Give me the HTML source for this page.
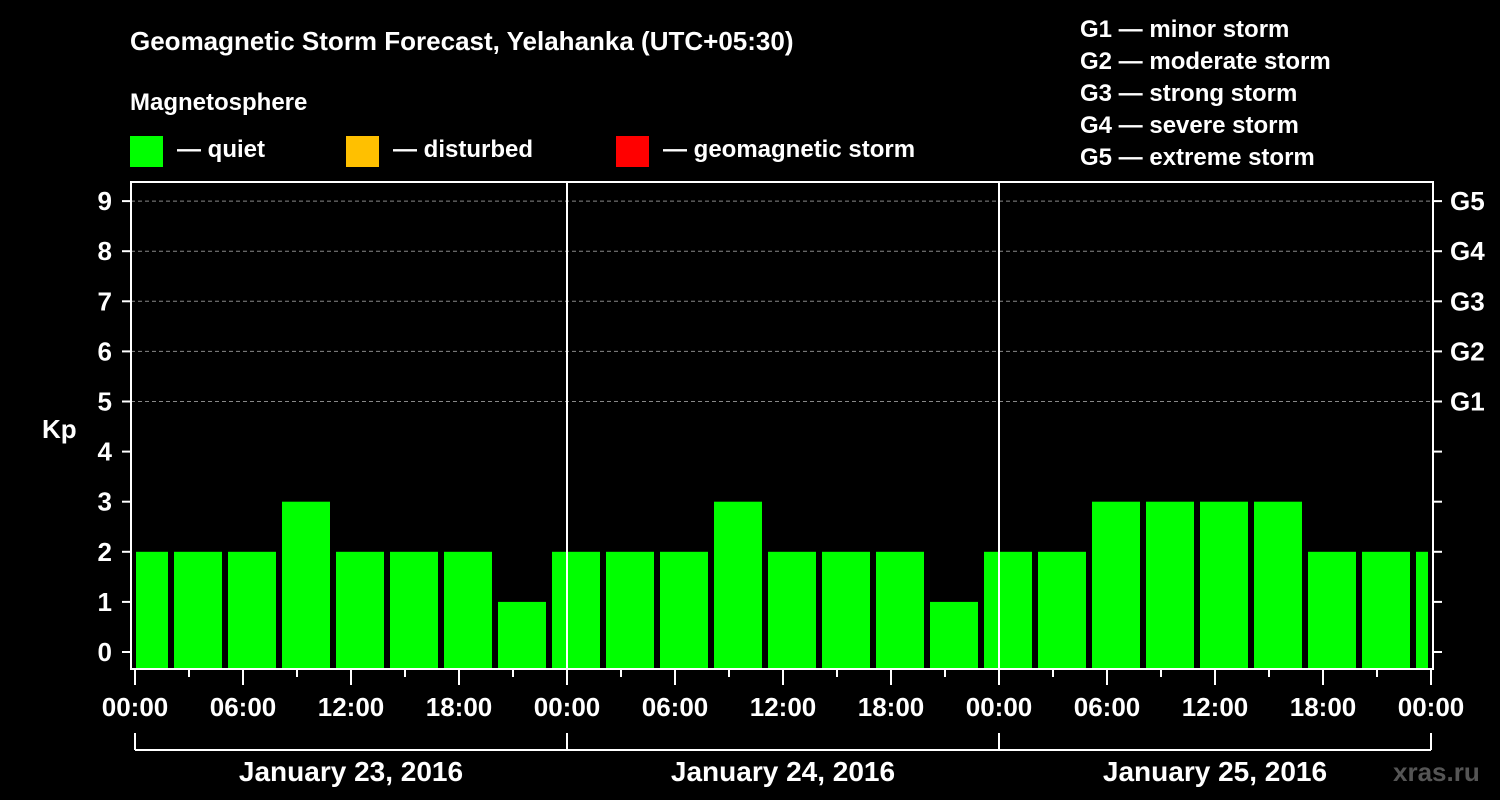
<!DOCTYPE html>
<html><head><meta charset="utf-8"><style>
html,body{margin:0;padding:0;background:#000;}
svg{display:block;font-family:"Liberation Sans",Arial,sans-serif;font-weight:bold;}
</style></head><body>
<svg id="chart" width="1500" height="800" viewBox="0 0 1500 800">
<rect width="1500" height="800" fill="#000"/>
<text x="130" y="50" fill="#fff" font-size="26">Geomagnetic Storm Forecast, Yelahanka (UTC+05:30)</text>
<text x="130" y="110" fill="#fff" font-size="24">Magnetosphere</text>
<g>
<rect x="130" y="136" width="33" height="31" fill="#00ff00"/>
<text x="177" y="157" fill="#fff" font-size="24">— quiet</text>
<rect x="346" y="136" width="33" height="31" fill="#ffc000"/>
<text x="393" y="157" fill="#fff" font-size="24">— disturbed</text>
<rect x="616" y="136" width="33" height="31" fill="#ff0000"/>
<text x="663" y="157" fill="#fff" font-size="24">— geomagnetic storm</text>
</g>
<g fill="#fff" font-size="24">
<text x="1080" y="37">G1 — minor storm</text>
<text x="1080" y="69">G2 — moderate storm</text>
<text x="1080" y="101">G3 — strong storm</text>
<text x="1080" y="133">G4 — severe storm</text>
<text x="1080" y="165">G5 — extreme storm</text>
</g>
<text x="42" y="438" fill="#fff" font-size="26">Kp</text>
<g id="grid"></g>
<g id="bars"></g>
<g id="axes"></g>
<text x="1393" y="781" fill="#555" font-size="26">xras.ru</text>
</svg>
<script>
const kpValues=[2,2,2,3,2,2,2,1,2,2,2,3,2,2,2,1,2,2,3,3,3,3,2,2,2];
const yTicks=[0,1,2,3,4,5,6,7,8,9];
const gLabels=["G1","G2","G3","G4","G5"];
const xTickLabels=["00:00","06:00","12:00","18:00","00:00","06:00","12:00","18:00","00:00","06:00","12:00","18:00","00:00"];
const dayLabels=["January 23, 2016","January 24, 2016","January 25, 2016"];
const NS="http://www.w3.org/2000/svg";
const L=131,R=1433,T=182,B=669;
const x=h=>135+h*18;
const y=k=>652-k*50.1;
function mk(tag,attrs,parent,text){const e=document.createElementNS(NS,tag);for(const a in attrs)e.setAttribute(a,attrs[a]);if(text!==undefined)e.textContent=text;parent.appendChild(e);return e;}
const grid=document.getElementById('grid'),bars=document.getElementById('bars'),axes=document.getElementById('axes');
for(let k=5;k<=9;k++){
 const g=mk('line',{x1:L,x2:R,y1:y(k),y2:y(k),stroke:'#888','stroke-dasharray':'4,3','stroke-width':1},grid);
 
 
}
kpValues.forEach((v,i)=>{
 const s=-1+3*i;
 let x0=x(s)+3,x1=x(s+3)-3;
 x0=Math.max(x0,136);x1=Math.min(x1,1428);
 const b=mk('rect',{x:x0,y:y(v),width:x1-x0,height:B-y(v),fill:'#00ff00'},bars);
 
 
});
[1,2].forEach(d=>{
 const l=mk('line',{x1:x(24*d),x2:x(24*d),y1:T,y2:B,stroke:'#fff','stroke-width':2},axes);
 
 
});
const fr=mk('rect',{x:L,y:T,width:R-L,height:B-T,fill:'none',stroke:'#fff','stroke-width':2},axes);


yTicks.forEach(k=>{
 mk('line',{x1:122,x2:L,y1:y(k),y2:y(k),stroke:'#fff','stroke-width':2},axes);
 mk('line',{x1:R,x2:1442,y1:y(k),y2:y(k),stroke:'#fff','stroke-width':2},axes);
 const t=mk('text',{x:112,y:y(k)+9,fill:'#fff','font-size':26,'text-anchor':'end'},axes,String(k));
 
 
});
gLabels.forEach((g,i)=>{
 const t=mk('text',{x:1450,y:y(5+i)+9,fill:'#fff','font-size':26},axes,g);
 
 
});
for(let h=0;h<=72;h+=3){
 const major=h%6===0;
 mk('line',{x1:x(h),x2:x(h),y1:B,y2:B+(major?16:8),stroke:'#fff','stroke-width':2},axes);
}
xTickLabels.forEach((lab,i)=>{
 const t=mk('text',{x:x(i*6),y:716,fill:'#fff','font-size':26,'text-anchor':'middle'},axes,lab);
 
 
});
mk('line',{x1:x(0),x2:x(72),y1:750,y2:750,stroke:'#fff','stroke-width':2},axes);
for(let d=0;d<=3;d++)mk('line',{x1:x(24*d),x2:x(24*d),y1:733,y2:750,stroke:'#fff','stroke-width':2},axes);
dayLabels.forEach((lab,i)=>{
 const t=mk('text',{x:x(24*i+12),y:781,fill:'#fff','font-size':28,'text-anchor':'middle'},axes,lab);
 
 
});
</script>
</body></html>
